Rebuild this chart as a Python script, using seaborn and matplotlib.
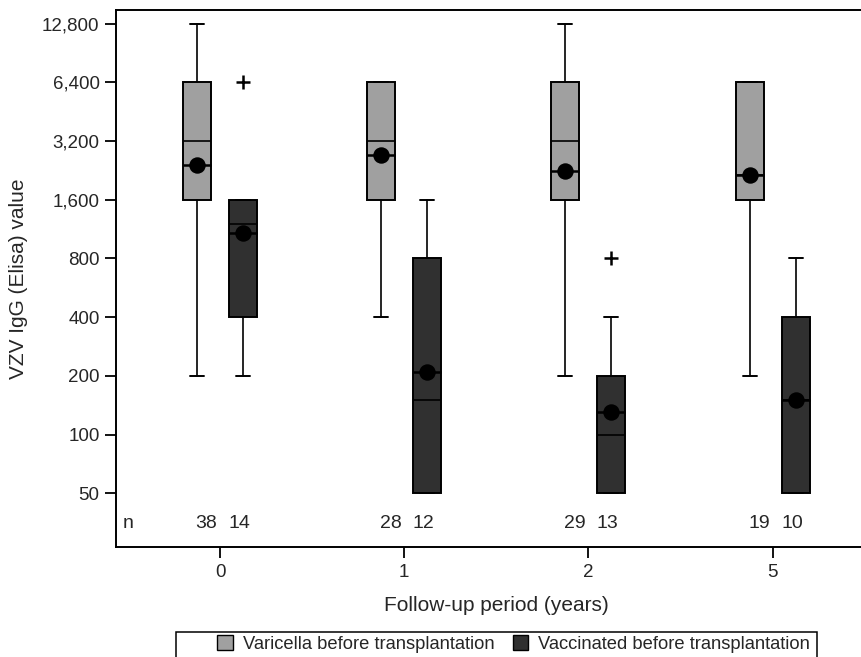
import numpy as np
import pandas as pd
import seaborn as sns
import matplotlib.pyplot as plt
from matplotlib.patches import Patch, Rectangle

# follow-up periods (years) and the two groups
periods = ["0", "1", "2", "5"]
groups = ["Varicella before transplantation", "Vaccinated before transplantation"]

# box summaries, one value per period
var_q1 = [1600, 1600, 1600, 1600]
var_med = [3200, 3200, 3200, 2150]
var_q3 = [6400, 6400, 6400, 6400]
var_lo = [200, 400, 200, 200]
var_hi = [12800, 6400, 12800, 6400]
var_mean = [2400, 2700, 2250, 2150]
var_fliers = [[], [], [], []]
var_n = [38, 28, 29, 19]

vac_q1 = [400, 50, 50, 50]
vac_med = [1200, 150, 100, 150]
vac_q3 = [1600, 800, 200, 400]
vac_lo = [200, 50, 50, 50]
vac_hi = [1600, 1600, 400, 800]
vac_mean = [1080, 209, 131, 151]
vac_fliers = [[6400], [], [800], []]
vac_n = [14, 12, 13, 10]

yticks = [50, 100, 200, 400, 800, 1600, 3200, 6400, 12800]

colors = ["#a0a0a0", "#303030"]
offset = 0.125
width = 0.152

sns.set_style("ticks")
plt.rcParams['font.family'] = ['Liberation Sans', 'DejaVu Sans']

fig = plt.figure(figsize=(8.62, 6.57), dpi=100)
ax = fig.add_axes([0.1349, 0.167, 0.8818, 0.8183])

series = [
    (var_q1, var_med, var_q3, var_lo, var_hi, var_mean, var_fliers),
    (vac_q1, vac_med, vac_q3, vac_lo, vac_hi, vac_mean, vac_fliers),
]
rows = []
for g, (q1, med, q3, lo, hi, mean, fl) in enumerate(series):
    stats = [dict(q1=q1[i], med=med[i], q3=q3[i], whislo=lo[i], whishi=hi[i],
                  mean=mean[i], fliers=fl[i]) for i in range(len(periods))]
    pos = np.arange(len(periods)) + (g * 2 - 1) * offset
    ax.bxp(stats, positions=pos, widths=width, capwidths=0.076,
           patch_artist=True, showmeans=False,
           boxprops=dict(facecolor=colors[g], edgecolor="black", linewidth=1.4),
           medianprops=dict(color="black", linewidth=1.2),
           whiskerprops=dict(color="black", linewidth=1.2),
           capprops=dict(color="black", linewidth=1.4),
           flierprops=dict(marker="+", markersize=10, markeredgecolor="black",
                           markeredgewidth=1.8))
    ax.hlines(mean, pos - width / 2, pos + width / 2, color="black", linewidth=1.8, zorder=3)
    for i in range(len(periods)):
        rows.append(dict(x=pos[i], mean=mean[i]))

means = pd.DataFrame(rows)
sns.scatterplot(data=means, x="x", y="mean", ax=ax, color="black", s=140,
                linewidth=0, zorder=4, legend=False)

ax.set_yscale("log", base=2)
ax.set_ylim(26.4, 15100)
ax.set_yticks(yticks)
ax.set_yticklabels([f"{v:,}" for v in yticks])
ax.minorticks_off()
ax.set_xlim(-0.563, 3.563)
ax.set_xticks(range(len(periods)))
ax.set_xticklabels(periods)

# n row
ny = 34.8
ax.text(-0.5, ny, "n", ha="center", va="center", fontsize=14)
for i in range(len(periods)):
    ax.text(i - 0.075, ny, str(var_n[i]), ha="center", va="center", fontsize=14)
    ax.text(i + 0.105, ny, str(vac_n[i]), ha="center", va="center", fontsize=14)

for s in ax.spines.values():
    s.set_linewidth(1.4)
    s.set_color("black")
ax.tick_params(axis="both", length=8, width=1.3, labelsize=13.5, color="black", pad=4)
ax.set_xlabel("Follow-up period (years)", fontsize=15, labelpad=11)
ax.set_ylabel("VZV IgG (Elisa) value", fontsize=15, labelpad=10)

handles = [Patch(facecolor=colors[g], edgecolor="black", label=groups[g]) for g in range(2)]
leg = fig.legend(handles=handles, loc="center left", bbox_to_anchor=(217 / 862, 1 - 644 / 657),
                 ncol=2, frameon=False, fontsize=13.2, handlelength=0.85,
                 handleheight=0.85, borderpad=0, columnspacing=1.0, handletextpad=0.55,
                 borderaxespad=0)
fig.add_artist(Rectangle((176 / 862, -0.01), (817 - 176) / 862, (657 - 632) / 657 + 0.01,
                         transform=fig.transFigure, fill=False, edgecolor="black",
                         linewidth=1.1))

fig.savefig("out.png", dpi=100)
